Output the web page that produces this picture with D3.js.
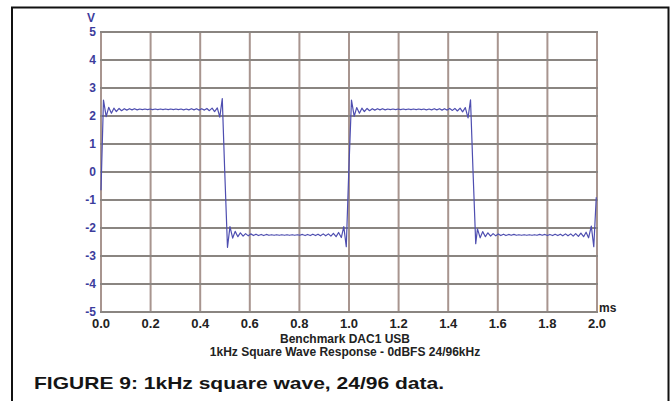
<!DOCTYPE html>
<html>
<head>
<meta charset="utf-8">
<script src="https://cdn.jsdelivr.net/npm/d3@7"></script>
<style>
html,body{margin:0;padding:0;background:#fff;}
svg{display:block;}
text{font-family:"Liberation Sans",Arial,sans-serif;font-weight:bold;}
</style>
</head>
<body>
<svg id="chart" width="672" height="401"></svg>
<script>
// ---- data ----
const xTicks = [0.0, 0.2, 0.4, 0.6, 0.8, 1.0, 1.2, 1.4, 1.6, 1.8, 2.0];
const yTicks = [5, 4, 3, 2, 1, 0, -1, -2, -3, -4, -5];
const xUnit = "ms";
const yUnit = "V";
const titleLines = ["Benchmark DAC1 USB", "1kHz Square Wave Response - 0dBFS 24/96kHz"];
const caption = "FIGURE 9: 1kHz square wave, 24/96 data.";

const timeMs = [
  0.000,0.010,0.021,0.031,0.042,0.052,0.062,0.073,0.083,0.094,0.104,0.115,0.125,0.135,0.146,0.156,0.167,0.177,0.188,0.198,
  0.208,0.219,0.229,0.240,0.250,0.260,0.271,0.281,0.292,0.302,0.312,0.323,0.333,0.344,0.354,0.365,0.375,0.385,0.396,0.406,
  0.417,0.427,0.437,0.448,0.458,0.469,0.479,0.489,0.499,
  0.510,0.520,0.531,0.541,0.552,0.562,0.573,0.583,0.594,0.604,0.615,0.625,0.635,0.646,0.656,0.667,0.677,0.688,0.698,0.708,
  0.719,0.729,0.740,0.750,0.760,0.771,0.781,0.792,0.802,0.812,0.823,0.833,0.844,0.854,0.865,0.875,0.885,0.896,0.906,0.917,
  0.927,0.937,0.948,0.958,0.969,0.979,0.989,0.999,
  1.010,1.021,1.031,1.042,1.052,1.062,1.073,1.083,1.094,1.104,1.115,1.125,1.135,1.146,1.156,1.167,1.177,1.188,1.198,1.208,
  1.219,1.229,1.240,1.250,1.260,1.271,1.281,1.292,1.302,1.312,1.323,1.333,1.344,1.354,1.365,1.375,1.385,1.396,1.406,1.417,
  1.427,1.437,1.448,1.458,1.469,1.480,1.490,1.500,
  1.511,1.518,1.529,1.539,1.550,1.560,1.571,1.581,1.592,1.602,1.612,1.623,1.633,1.644,1.654,1.665,1.675,1.685,1.696,1.706,
  1.717,1.727,1.738,1.748,1.758,1.769,1.779,1.790,1.800,1.810,1.821,1.831,1.842,1.852,1.862,1.873,1.883,1.894,1.904,1.914,
  1.925,1.935,1.946,1.956,1.966,1.977,1.987,1.997
];
const volts = [
  -0.65,2.57,1.98,2.31,2.10,2.28,2.16,2.27,2.19,2.26,2.21,2.26,2.22,2.26,2.22,2.25,2.23,2.25,2.23,2.25,
  2.23,2.25,2.23,2.25,2.23,2.25,2.23,2.25,2.23,2.25,2.23,2.25,2.22,2.25,2.22,2.26,2.22,2.26,2.21,2.26,
  2.21,2.27,2.19,2.28,2.16,2.29,1.96,2.62,0.00,
  -2.69,-1.95,-2.36,-2.12,-2.31,-2.17,-2.29,-2.20,-2.28,-2.21,-2.27,-2.22,-2.27,-2.23,-2.27,-2.23,-2.26,-2.24,-2.26,-2.24,
  -2.26,-2.24,-2.26,-2.24,-2.26,-2.24,-2.26,-2.24,-2.26,-2.23,-2.27,-2.23,-2.27,-2.22,-2.27,-2.22,-2.28,-2.21,-2.28,-2.21,
  -2.29,-2.19,-2.31,-2.16,-2.34,-1.95,-2.67,0.00,
  2.57,1.99,2.30,2.10,2.28,2.16,2.27,2.19,2.26,2.21,2.26,2.22,2.26,2.22,2.25,2.23,2.25,2.23,2.25,2.23,
  2.25,2.23,2.25,2.23,2.25,2.23,2.25,2.23,2.25,2.22,2.25,2.22,2.26,2.22,2.26,2.21,2.26,2.21,2.27,2.20,
  2.27,2.18,2.28,2.15,2.30,1.93,2.58,0.05,
  -2.56,-2.03,-2.35,-2.13,-2.31,-2.17,-2.29,-2.20,-2.28,-2.21,-2.27,-2.22,-2.27,-2.23,-2.26,-2.23,-2.26,-2.24,-2.26,-2.24,
  -2.26,-2.24,-2.26,-2.24,-2.26,-2.23,-2.26,-2.23,-2.27,-2.23,-2.27,-2.22,-2.27,-2.22,-2.28,-2.21,-2.28,-2.21,-2.29,-2.20,
  -2.30,-2.18,-2.31,-2.15,-2.35,-1.93,-2.67,-0.90
];

// ---- drawing ----
const svg = d3.select("#chart");
const x = d3.scaleLinear().domain([0, 2]).range([101, 597]);
const y = d3.scaleLinear().domain([-5, 5]).range([312, 32]);

// outer frame
svg.append("rect").attr("x", 12).attr("y", 7.5).attr("width", 656.5).attr("height", 400)
  .attr("fill", "none").attr("stroke", "#111").attr("stroke-width", 2);

// grid
const g = svg.append("g");
g.selectAll("line.v").data(xTicks).join("line").attr("class", "v")
  .attr("x1", d => x(d)).attr("x2", d => x(d))
  .attr("y1", y(5)).attr("y2", y(-5))
  .attr("stroke", "#a8958f").attr("stroke-width", 2);
g.selectAll("line.h").data(yTicks).join("line").attr("class", "h")
  .attr("x1", x(0) - 1).attr("x2", x(2) + 1)
  .attr("y1", d => y(d)).attr("y2", d => y(d))
  .attr("stroke", "#8a8581").attr("stroke-width", 2);

// waveform
const pts = timeMs.map((t, i) => [t, volts[i]]);
svg.append("path").datum(pts)
  .attr("d", d3.line().x(d => x(d[0])).y(d => y(d[1])))
  .attr("fill", "none").attr("stroke", "#4e4eb0").attr("stroke-width", 1.2)
  .attr("stroke-linejoin", "round");

// y axis labels
svg.selectAll("text.yl").data(yTicks).join("text").attr("class", "yl")
  .attr("x", 96).attr("y", d => y(d)).attr("dy", "0.36em")
  .attr("text-anchor", "end").attr("font-size", 12).attr("fill", "#3c3c9c")
  .text(d => d);
svg.append("text").attr("x", 91).attr("y", 22).attr("text-anchor", "middle")
  .attr("font-size", 12).attr("fill", "#3c3c9c").text(yUnit);

// x axis labels
svg.selectAll("text.xl").data(xTicks).join("text").attr("class", "xl")
  .attr("x", d => x(d)).attr("y", 328)
  .attr("text-anchor", "middle").attr("font-size", 13).attr("fill", "#222")
  .text(d => d.toFixed(1));
svg.append("text").attr("x", 599).attr("y", 312)
  .attr("font-size", 12).attr("fill", "#222").text(xUnit);

// titles
svg.selectAll("text.tt").data(titleLines).join("text").attr("class", "tt")
  .attr("x", 345).attr("y", (d, i) => 343 + i * 13)
  .attr("text-anchor", "middle").attr("font-size", 12).attr("fill", "#222")
  .text(d => d);

// caption
svg.append("text").attr("x", 34).attr("y", 389)
  .attr("font-size", 17).attr("fill", "#151515")
  .attr("textLength", 410).attr("lengthAdjust", "spacingAndGlyphs")
  .text(caption);
</script>
</body>
</html>
